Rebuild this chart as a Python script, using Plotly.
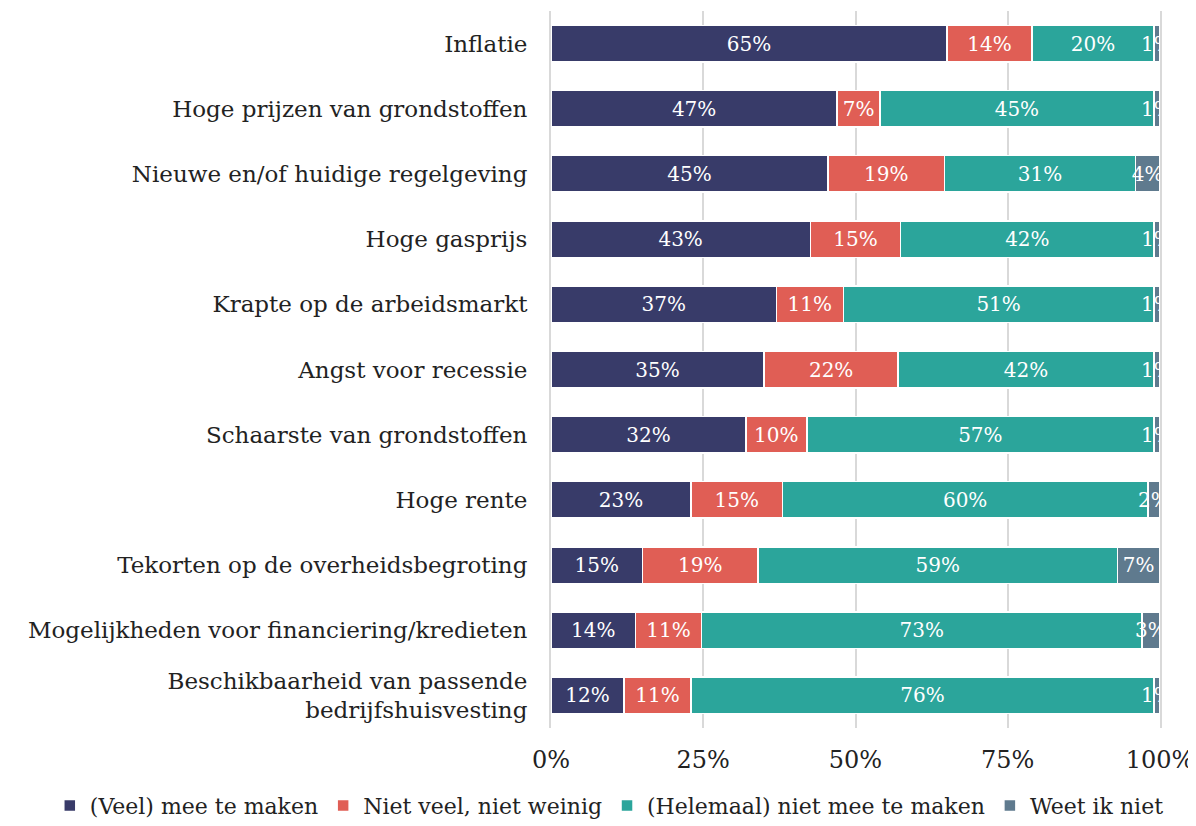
import plotly.graph_objects as go

categories = [
    "Inflatie",
    "Hoge prijzen van grondstoffen",
    "Nieuwe en/of huidige regelgeving",
    "Hoge gasprijs",
    "Krapte op de arbeidsmarkt",
    "Angst voor recessie",
    "Schaarste van grondstoffen",
    "Hoge rente",
    "Tekorten op de overheidsbegroting",
    "Mogelijkheden voor financiering/kredieten",
    "Beschikbaarheid van passende<br>bedrijfshuisvesting",
]
veel = [65, 47, 45, 43, 37, 35, 32, 23, 15, 14, 12]
niet_veel = [14, 7, 19, 15, 11, 22, 10, 15, 19, 11, 11]
helemaal_niet = [20, 45, 31, 42, 51, 42, 57, 60, 59, 73, 76]
weet_niet = [1, 1, 4, 1, 1, 1, 1, 2, 7, 3, 1]

series_names = ["(Veel) mee te maken", "Niet veel, niet weinig",
                "(Helemaal) niet mee te maken", "Weet ik niet"]
series_values = [veel, niet_veel, helemaal_niet, weet_niet]
colors = ["#383B69", "#E05E55", "#2BA59B", "#5F7A8E"]

tick_vals = [0, 25, 50, 75, 100]
tick_text = ["0%", "25%", "50%", "75%", "100%"]

FONT = "DejaVu Serif"
TXT = "#222222"
GRID = "#D9D9D9"

fig = go.Figure()
for name, vals, col in zip(series_names, series_values, colors):
    fig.add_trace(go.Bar(
        y=categories, x=vals, name=name, orientation="h",
        marker=dict(color=col, line=dict(color="white", width=1.5)),
        text=[f"{v}%" for v in vals],
        textposition="inside", insidetextanchor="middle",
        constraintext="none", textangle=0,
        textfont=dict(color="white", size=20, family=FONT),
        width=0.56,
    ))

fig.update_layout(
    barmode="stack", barnorm="percent",
    width=1188, height=818,
    margin=dict(l=543, r=36, t=3, b=98, autoexpand=False),
    paper_bgcolor="white", plot_bgcolor="white",
    font=dict(family=FONT, size=22, color=TXT),
    legend=dict(orientation="h", x=-0.823, xanchor="left", xref="paper",
                y=-0.079, yanchor="top", yref="paper",
                font=dict(size=22, family=FONT, color=TXT),
                traceorder="normal", itemwidth=30, tracegroupgap=0),
)
fig.update_xaxes(range=[0, 100], tickvals=tick_vals, ticktext=tick_text,
                 showgrid=True, gridcolor=GRID, gridwidth=2,
                 zeroline=False, showline=False, automargin=False,
                 tickfont=dict(size=24, family=FONT, color=TXT),
                 ticklabelstandoff=15)
fig.update_yaxes(autorange="reversed", showgrid=False,
                 showline=True, linecolor=GRID, linewidth=2, mirror=True,
                 automargin=False,
                 tickfont=dict(size=23, family=FONT, color=TXT),
                 ticklabelstandoff=17)

fig.write_html("out.html")
